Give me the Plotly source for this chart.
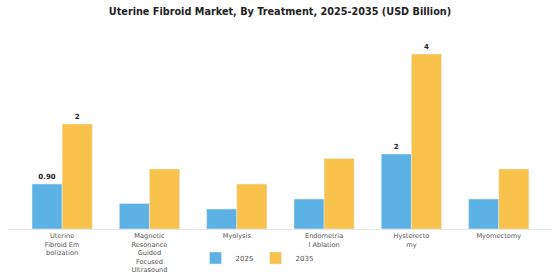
import plotly.graph_objects as go

categories = ["Uterine<br>Fibroid Em<br>bolization",
              "Magnetic<br>Resonance<br>Guided<br>Focused<br>Ultrasound",
              "Myolysis",
              "Endometria<br>l Ablation",
              "Hysterecto<br>my",
              "Myomectomy"]
values_2025 = [0.90, 0.51, 0.40, 0.60, 1.50, 0.60]
values_2035 = [2.10, 1.20, 0.90, 1.41, 3.50, 1.20]
labels_2025 = ["0.90", "", "", "", "2", ""]
labels_2035 = ["2", "", "", "", "4", ""]

fig = go.Figure()
fig.add_bar(x=categories, y=values_2025, name="2025", marker_color="#5DB2E5",
            text=labels_2025, textposition="outside",
            textfont=dict(size=7, color="#222", family="DejaVu Sans", weight="bold"),
            cliponaxis=False)
fig.add_bar(x=categories, y=values_2035, name="2035", marker_color="#F9C24A",
            text=labels_2035, textposition="outside",
            textfont=dict(size=7, color="#222", family="DejaVu Sans", weight="bold"),
            cliponaxis=False)

fig.update_layout(
    width=560, height=280,
    margin=dict(l=8, r=8, t=39, b=51, autoexpand=False),
    paper_bgcolor="white", plot_bgcolor="white",
    barmode="group", bargap=0.31, bargroupgap=0,
    title=dict(text="<b>Uterine Fibroid Market, By Treatment, 2025-2035 (USD Billion)</b>",
               x=0.5, xanchor="center", y=0.96, yanchor="middle",
               font=dict(family="DejaVu Sans", size=9.7, color="#222")),
    font=dict(family="DejaVu Sans", size=6.6, color="#555"),
    legend=dict(orientation="h", x=0.455, xanchor="center", y=-0.153, yanchor="middle",
                font=dict(size=7, color="#555"), itemwidth=30,
                bgcolor="rgba(0,0,0,0)", entrywidth=15, entrywidthmode="pixels"),
)
fig.update_xaxes(range=[-0.62, 5.61], showline=True, linecolor="#e6e6e6", linewidth=1,
                 ticks="", tickfont=dict(size=6.6, color="#555"), showgrid=False,
                 automargin=False)
fig.update_yaxes(range=[0, 3.8], visible=False, showgrid=False, automargin=False)

fig.write_html("out.html")
